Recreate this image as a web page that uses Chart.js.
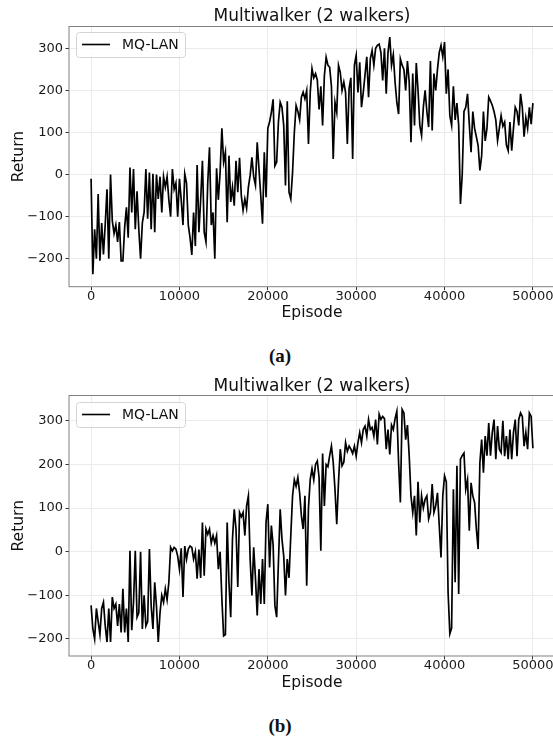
<!DOCTYPE html>
<html>
<head>
<meta charset="utf-8">
<script src="https://cdn.jsdelivr.net/npm/chart.js@4.4.1/dist/chart.umd.min.js"></script>
<style>
  html, body { margin: 0; padding: 0; background: #fff; width: 553px; height: 738px; overflow: hidden; }
  .panel { position: absolute; left: 0; }
  .caption { position: absolute; left: 240px; width: 80px; text-align: center; font: bold 19px "Liberation Serif", "DejaVu Serif", serif; color: #111; line-height: 22px; }
</style>
</head>
<body>
<canvas id="chartA" class="panel" width="600" height="335" style="top:0"></canvas>
<div class="caption" style="top:345px">(a)</div>
<canvas id="chartB" class="panel" width="600" height="335" style="top:370px"></canvas>
<div class="caption" style="top:715px">(b)</div>

<script>
const chartTitle = "Multiwalker (2 walkers)";
const seriesLabel = "MQ-LAN";
const episodeStep = 200; // one reading every 200 episodes
const xTicks = [0, 10000, 20000, 30000, 40000, 50000];
const yTicks = [-200, -100, 0, 100, 200, 300];

// (a) return per episode
const returnsA = [
  -10, -237, -130, -200, -46, -205, -115, -190, -118, -35,
  -200, 0, -110, -140, -120, -160, -113, -205, -205, -125,
  -78, -150, 17, -90, 13, -130, -40, -130, -200, -115,
  -90, 13, -105, 5, -130, 2, -137, 0, -58, -5,
  -90, -5, -30, -5, -60, -100, 13, -35, -20, -100,
  -10, -60, -120, 2, -20, -120, -150, -191, -90, -170,
  23, -137, -60, 33, -137, -160, -20, 65, -120, -90,
  -200, 15, -60, 5, 110, 30, 53, -113, 45, -65,
  -30, -74, 33, -42, 40, -50, -85, -58, -80, -30,
  -2, 41, -5, -25, 77, 13, -50, -117, 53, -54,
  110, 125, 148, 179, 21, 30, 125, 172, 160, 117,
  -26, 174, -42, -58, 5, 100, 164, 150, 130, 184,
  196, 180, 200, 73, 195, 252, 230, 240, 225, 155,
  210, 117, 235, 279, 260, 255, 210, 37, 172, 148,
  260, 243, 200, 220, 195, 73, 205, 230, 37, 260,
  283, 195, 267, 160, 195, 237, 280, 184, 275, 295,
  260, 300, 307, 310, 290, 224, 300, 192, 290, 327,
  260, 285, 220, 172, 144, 275, 260, 250, 200, 270,
  220, 77, 240, 117, 265, 200, 117, 93, 160, 200,
  150, 113, 270, 105, 240, 200, 250, 290, 307, 280,
  315, 192, 250, 140, 117, 210, 130, 170, 117, -70,
  0, 150, 160, 192, 120, 53, 150, 110, 90, 69,
  10, 45, 150, 80, 110, 184, 175, 165, 150, 130,
  81, 110, 140, 115, 125, 70, 57, 125, 57, 110,
  160, 150, 117, 192, 160, 90, 135, 110, 160, 120,
  170
];

// (b) return per episode
const returnsB = [
  -123, -177, -200, -130, -160, -190, -130, -116, -170, -207,
  -130, -207, -104, -130, -120, -170, -120, -185, -85, -185,
  -130, -207, 2, -180, -116, 2, -150, -140, 0, -177,
  -100, -170, -160, 6, -125, -177, -70, -125, -207, -140,
  -100, -116, -85, -110, -70, 10, 2, 10, 6, -10,
  -40, 8, -104, 13, -17, 6, 13, 10, -17, 0,
  -62, 5, -60, 67, -55, 52, 40, 52, 20, 37,
  20, 37, -40, 0, -108, -193, -190, 67, -70, -150,
  29, 97, 52, -81, 90, 80, 90, 37, 105, 128,
  -17, -100, 10, -60, -146, -40, -120, -17, -120, 68,
  109, -36, 60, 15, -123, -150, -24, 97, 29, -10,
  -100, -17, -60, 37, 128, 165, 150, 170, 135, 82,
  52, 128, -78, 100, 166, 190, 165, 200, 208, 170,
  2, 225, 105, 200, 195, 220, 242, 205, 143, 63,
  160, 235, 197, 205, 250, 230, 242, 235, 225, 242,
  219, 250, 273, 250, 280, 288, 265, 303, 280, 285,
  265, 303, 246, 315, 303, 310, 305, 235, 280, 223,
  290, 280, 305, 322, 204, 113, 326, 318, 257, 290,
  220, 128, 90, 128, 37, 160, 67, 128, 100, 120,
  128, 75, 90, 155, 90, 105, 135, 60, -13, 128,
  174, 160, -93, -188, -175, 143, -70, 197, -97, 212,
  220, 226, 143, 165, 48, 158, 128, 113, 52, 6,
  204, 257, 181, 265, 220, 295, 220, 273, 303, 212,
  288, 235, 227, 300, 219, 265, 212, 280, 212, 273,
  303, 219, 303, 318, 310, 242, 273, 235, 318, 310,
  237
];

const FONT = "'DejaVu Sans', 'Liberation Sans', sans-serif";
const minus = v => (v < 0 ? "\u2212" + Math.abs(v) : String(v));

// spines, title and the in-plot legend (matplotlib style)
const framePlugin = {
  id: "frame",
  afterDraw(chart) {
    const { ctx, chartArea: a } = chart;
    ctx.save();
    ctx.strokeStyle = "#808080";
    ctx.lineWidth = 1;
    ctx.strokeRect(a.left, a.top, a.right - a.left, a.bottom - a.top);

    ctx.fillStyle = "#111";
    ctx.font = "17px " + FONT;
    ctx.textAlign = "center";
    ctx.textBaseline = "alphabetic";
    ctx.fillText(chartTitle, (a.left + a.right) / 2, 21);

    // legend box
    ctx.beginPath();
    ctx.roundRect(76.5, 32.5, 109, 25, 3);
    ctx.fillStyle = "rgba(255,255,255,0.8)";
    ctx.fill();
    ctx.strokeStyle = "#d4d4d4";
    ctx.stroke();
    ctx.beginPath();
    ctx.moveTo(82, 44.5);
    ctx.lineTo(110, 44.5);
    ctx.strokeStyle = "#000";
    ctx.lineWidth = 1.6;
    ctx.stroke();
    ctx.fillStyle = "#111";
    ctx.font = "14px " + FONT;
    ctx.textAlign = "left";
    ctx.textBaseline = "middle";
    ctx.fillText(seriesLabel, 122, 45);
    ctx.restore();
  }
};

function makeChart(id, returns, yMin, yMax, plotTop, plotBottom) {
  const canvas = document.getElementById(id);
  const H = canvas.height;
  return new Chart(canvas, {
    type: "line",
    data: {
      datasets: [{
        label: seriesLabel,
        data: returns.map((v, i) => ({ x: i * episodeStep, y: v })),
        borderColor: "#000",
        borderWidth: 1.7,
        pointRadius: 0,
        tension: 0
      }]
    },
    options: {
      responsive: false,
      animation: false,
      events: [],
      layout: { padding: { top: plotTop, right: canvas.width - 555, left: 0, bottom: 0 } },
      plugins: { legend: { display: false }, title: { display: false }, tooltip: { enabled: false } },
      scales: {
        x: {
          type: "linear",
          min: -2500,
          max: 52500,
          afterBuildTicks: s => { s.ticks = xTicks.map(value => ({ value })); },
          afterFit: s => { s.height = H - plotBottom; },
          grid: { color: "#ebebeb", lineWidth: 1, tickLength: 3.5, tickColor: "#333" },
          border: { display: false },
          ticks: { color: "#1a1a1a", padding: 0, maxRotation: 0, font: { family: FONT, size: 13, lineHeight: 1 }, callback: v => String(v) },
          title: { display: true, text: "Episode", color: "#111", font: { family: FONT, size: 15.5, lineHeight: 1.2 }, padding: { top: 0, bottom: 12.4 } }
        },
        y: {
          min: yMin,
          max: yMax,
          afterBuildTicks: s => { s.ticks = yTicks.map(value => ({ value })); },
          afterFit: s => { s.width = 69; },
          grid: { color: "#ebebeb", lineWidth: 1, tickLength: 3.5, tickColor: "#333" },
          border: { display: false },
          ticks: { color: "#1a1a1a", padding: 2.5, font: { family: FONT, size: 13, lineHeight: 1 }, callback: minus },
          title: { display: true, text: "Return", color: "#111", font: { family: FONT, size: 15.5, lineHeight: 1.2 }, padding: { top: 10, bottom: 0 } }
        }
      }
    },
    plugins: [framePlugin]
  });
}

makeChart("chartA", returnsA, -266.5, 352, 26.5, 286.7);
makeChart("chartB", returnsB, -239, 358, 25.5, 286);
</script>
</body>
</html>
